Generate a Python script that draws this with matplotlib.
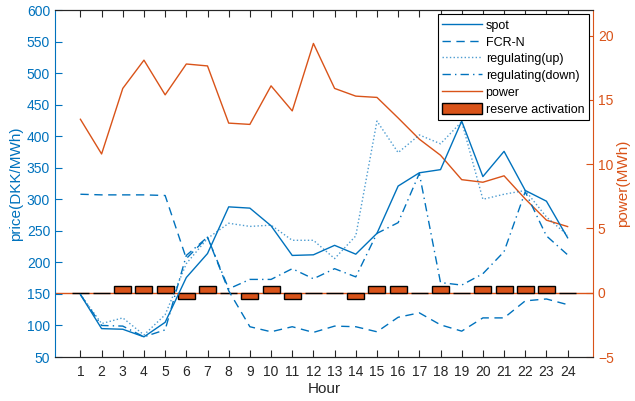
import numpy as np
import matplotlib
matplotlib.use("Agg")
import matplotlib.pyplot as plt
from matplotlib.patches import Patch
from matplotlib.lines import Line2D

plt.rcParams['font.family'] = ['Liberation Sans', 'DejaVu Sans']

# dados horarios
horas = np.arange(1, 25)
spot = [149, 95, 94, 82, 105, 176, 214, 288, 286, 258, 211, 212,
        227, 213, 246, 321, 342, 347, 424, 336, 376, 314, 297, 239]
fcr_n = [308, 307, 307, 307, 306, 206, 240, 155, 98, 90, 98, 89,
         99, 98, 90, 113, 120, 101, 91, 112, 112, 139, 142, 133]
reg_up = [149, 103, 112, 85, 117, 198, 238, 262, 257, 259, 235, 235,
          206, 242, 424, 374, 402, 388, 423, 300, 308, 314, 272, 243]
reg_down = [149, 100, 99, 82, 93, 211, 240, 158, 173, 173, 190, 174,
            190, 177, 246, 263, 341, 168, 164, 182, 217, 312, 242, 212]
potencia = [13.5, 10.8, 15.9, 18.1, 15.4, 17.8, 17.65, 13.2, 13.1, 16.1, 14.15, 19.4,
            15.9, 15.3, 15.2, 13.6, 11.95, 10.7, 8.8, 8.6, 9.1, 7.3, 5.65, 5.15]
ativacao = [0, 0, 0.5, 0.5, 0.5, -0.5, 0.5, 0, -0.5, 0.5, -0.5, 0,
            0, -0.5, 0.5, 0.5, 0, 0.5, 0, 0.5, 0.5, 0.5, 0.5, 0]

azul = '#0072BD'
laranja = '#D95319'
cinza = '#262626'

fig = plt.figure(figsize=(6.35, 4.01), dpi=100)
ax = fig.add_axes([0.0866, 0.1097, 0.8473, 0.8653])
ax2 = ax.twinx()

# eixo esquerdo: precos
ax.plot(horas, spot, '-', color=azul, lw=1.0)
ax.plot(horas, fcr_n, '--', color=azul, lw=1.0, dashes=(6, 4))
ax.plot(horas, reg_up, ':', color=azul, lw=1.0, alpha=0.7)
ax.plot(horas, reg_down, '-.', color=azul, lw=1.0, dashes=(6, 3, 1, 3))
ax.set_xlim(-0.2, 25.2)
ax.set_ylim(50, 600)
ax.set_yticks(np.arange(50, 601, 50))
ax.set_xticks(horas)
ax.set_xlabel('Hour', fontsize=11, color=cinza, labelpad=2)
ax.set_ylabel('price(DKK/MWh)', fontsize=11, color=azul, labelpad=3)

# eixo direito: potencia e ativacao de reserva
ax2.axhline(0, color=laranja, lw=1.0, zorder=1)
ax2.bar(horas, ativacao, width=0.8, color=laranja, edgecolor='black', lw=1.0, zorder=2)
ax2.plot(horas, potencia, '-', color=laranja, lw=1.0, zorder=3)
ax2.set_ylim(-5, 22)
ax2.set_yticks(np.arange(-5, 21, 5))
ax2.set_ylabel('power(MWh)', fontsize=11, color=laranja, labelpad=2)

ax.set_zorder(ax2.get_zorder() + 1)
ax.patch.set_visible(False)

# estilo dos eixos
ax.tick_params(axis='x', direction='in', top=True, length=5, colors=cinza, labelsize=10, pad=6)
ax.tick_params(axis='y', direction='in', length=5, colors=azul, labelsize=10)
ax2.tick_params(axis='y', direction='in', length=5, colors=laranja, labelsize=10)
for a in (ax, ax2):
    a.spines['left'].set_color(azul)
    a.spines['right'].set_color(laranja)
    a.spines['top'].set_color(cinza)
    a.spines['bottom'].set_color(cinza)
ax2.spines['left'].set_visible(False)
ax.spines['right'].set_visible(False)

handles = [
    Line2D([], [], color=azul, ls='-', lw=1.0),
    Line2D([], [], color=azul, ls='--', lw=1.0, dashes=(6, 4)),
    Line2D([], [], color=azul, ls=':', lw=1.0, alpha=0.7),
    Line2D([], [], color=azul, ls='-.', lw=1.0, dashes=(6, 3, 1, 3)),
    Line2D([], [], color=laranja, ls='-', lw=1.0),
    Patch(facecolor=laranja, edgecolor='black', lw=1.0),
]
nomes = ['spot', 'FCR-N', 'regulating(up)', 'regulating(down)', 'power', 'reserve activation']
leg = ax.legend(handles, nomes, loc='upper right', fontsize=9, frameon=True, fancybox=False,
                edgecolor='black', framealpha=1, borderaxespad=0.35, handlelength=3.2,
                handleheight=1.0, handletextpad=0.3, labelspacing=0.32, borderpad=0.35)
leg.get_frame().set_linewidth(0.8)

fig.savefig('out.png', dpi=100)
